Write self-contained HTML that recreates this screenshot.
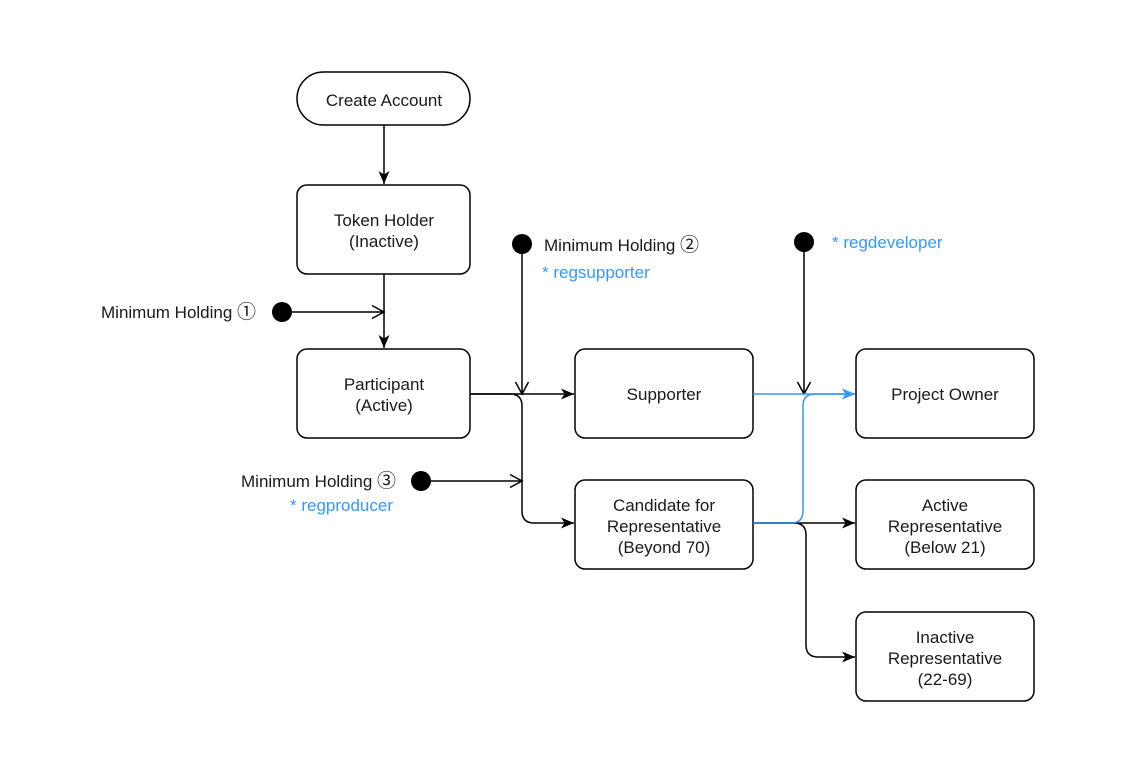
<!DOCTYPE html>
<html><head><style>body{margin:0;background:#fff}svg{display:block}text{font-family:"Liberation Sans","Noto Sans CJK JP",sans-serif;font-size:17px;fill:#1a1a1a}</style></head><body>
<svg width="1137" height="768" viewBox="0 0 1137 768">
<defs>
<marker id="a" markerWidth="16" markerHeight="16" refX="13" refY="7" orient="auto" markerUnits="userSpaceOnUse" overflow="visible"><path d="M0,1.5 L13,7 L0,12.5 L3.5,7 Z" fill="#000"/></marker>
<marker id="b" markerWidth="16" markerHeight="16" refX="13" refY="7" orient="auto" markerUnits="userSpaceOnUse" overflow="visible"><path d="M0,1.5 L13,7 L0,12.5 L3.5,7 Z" fill="#3399ff"/></marker>
<marker id="o" markerWidth="16" markerHeight="16" refX="13" refY="7" orient="auto" markerUnits="userSpaceOnUse" overflow="visible"><path d="M1,0.5 L13,7 L1,13.5" fill="none" stroke="#000" stroke-width="1.5"/></marker>
</defs>
<g fill="#fff" stroke="#000" stroke-width="1.5">
<rect x="297" y="72" width="173" height="53" rx="26.5"/>
<rect x="297" y="185" width="173" height="89" rx="10"/>
<rect x="297" y="349" width="173" height="89" rx="10"/>
<rect x="575" y="349" width="178" height="89" rx="10"/>
<rect x="856" y="349" width="178" height="89" rx="10"/>
<rect x="575" y="480" width="178" height="89" rx="10"/>
<rect x="856" y="480" width="178" height="89" rx="10"/>
<rect x="856" y="612" width="178" height="89" rx="10"/>
</g>
<g fill="none" stroke="#000" stroke-width="1.5">
<path d="M384 125 V184" marker-end="url(#a)"/>
<path d="M384 274 V348" marker-end="url(#a)"/>
<path d="M292 312 H384" marker-end="url(#o)"/>
<path d="M470 394 H574" marker-end="url(#a)"/>
<path d="M470 394 H510 Q522 394 522 406 V511 Q522 523 534 523 H574" marker-end="url(#a)"/>
<path d="M522 254 V394" marker-end="url(#o)"/>
<path d="M431 481 H522" marker-end="url(#o)"/>
<path d="M804 252 V394" marker-end="url(#o)"/>
<path d="M753 523 H855" marker-end="url(#a)"/>
<path d="M753 523 H794 Q806 523 806 535 V645 Q806 657 818 657 H855" marker-end="url(#a)"/>
</g>
<g fill="none" stroke="#3399ff" stroke-width="1.5">
<path d="M753 394 H855" marker-end="url(#b)"/>
<path d="M753 523 H791 Q803 523 803 511 V406 Q803 394 815 394 H855" marker-end="url(#b)"/>
</g>
<g fill="#000"><circle cx="282" cy="312" r="10"/><circle cx="522" cy="244" r="10"/><circle cx="421" cy="481" r="10"/><circle cx="804" cy="242" r="10"/></g>
<g text-anchor="middle">
<text x="384" y="106">Create Account</text>
<text x="384" y="226">Token Holder</text><text x="384" y="247">(Inactive)</text>
<text x="384" y="390">Participant</text><text x="384" y="411">(Active)</text>
<text x="664" y="400">Supporter</text>
<text x="945" y="400">Project Owner</text>
<text x="664" y="511">Candidate for</text><text x="664" y="532">Representative</text><text x="664" y="553">(Beyond 70)</text>
<text x="945" y="511">Active</text><text x="945" y="532">Representative</text><text x="945" y="553">(Below 21)</text>
<text x="945" y="643">Inactive</text><text x="945" y="664">Representative</text><text x="945" y="685">(22-69)</text>
</g>
<text x="101" y="318">Minimum Holding <tspan style="font-size:19px">①</tspan></text>
<text x="544" y="251">Minimum Holding <tspan style="font-size:19px">②</tspan></text>
<text x="542" y="278" style="fill:#3399ff">* regsupporter</text>
<text x="241" y="487">Minimum Holding <tspan style="font-size:19px">③</tspan></text>
<text x="290" y="511" style="fill:#3399ff">* regproducer</text>
<text x="832" y="248" style="fill:#3399ff">* regdeveloper</text>
</svg>
</body></html>
